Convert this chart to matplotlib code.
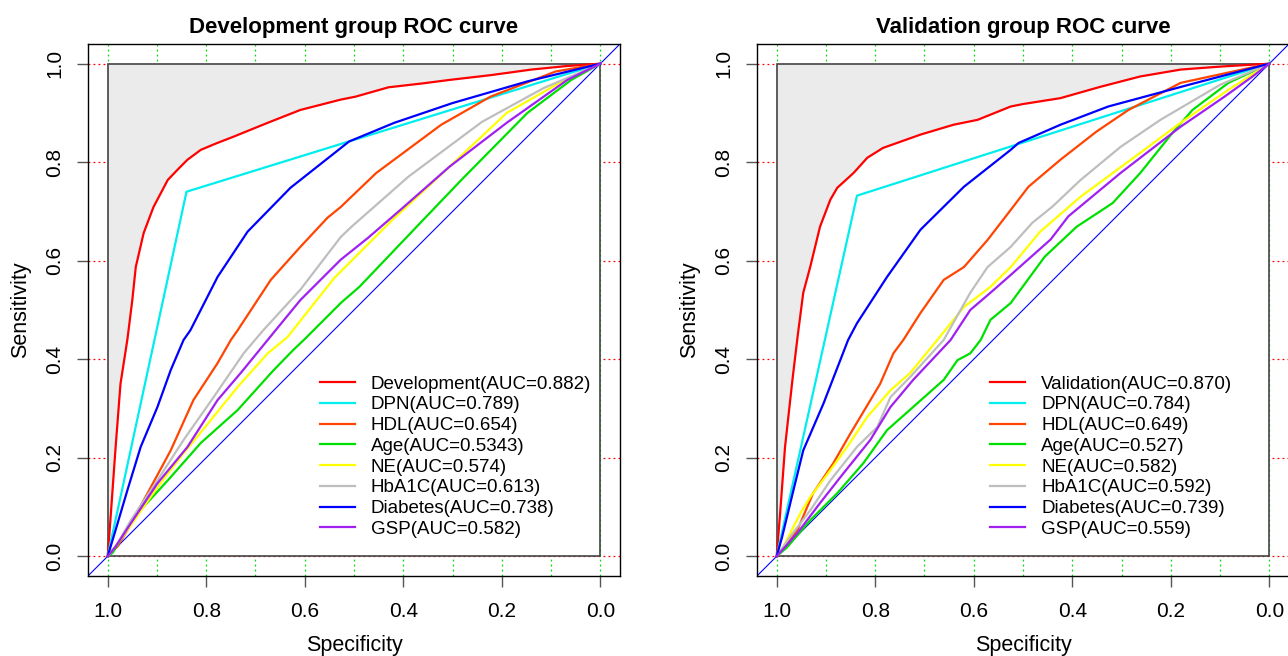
import matplotlib
matplotlib.use("Agg")
import matplotlib.pyplot as plt
from matplotlib.patches import Rectangle
import numpy as np

plt.rcParams["font.family"] = ["Liberation Sans", "DejaVu Sans"]

# ---- Development group (specificity, sensitivity) ----
dev_spec = [1.0, 0.994, 0.984, 0.974, 0.96, 0.95, 0.943, 0.927, 0.907, 0.878, 0.855, 0.838,
            0.811, 0.78, 0.744, 0.675, 0.609, 0.527, 0.497, 0.43, 0.36, 0.306, 0.22, 0.14,
            0.07, 0.0]
dev_sens = [0.0, 0.08, 0.22, 0.35, 0.44, 0.52, 0.587, 0.656, 0.709, 0.764, 0.788, 0.805,
            0.825, 0.838, 0.852, 0.88, 0.906, 0.927, 0.933, 0.952, 0.96, 0.967, 0.977, 0.988,
            0.995, 1.0]
dev_dpn_spec = [1.0, 0.84, 0.0]
dev_dpn_sens = [0.0, 0.74, 1.0]
dev_hdl_spec = [1.0, 0.98, 0.96, 0.919, 0.872, 0.826, 0.777, 0.75, 0.736, 0.669, 0.609, 0.554,
                0.527, 0.455, 0.323, 0.223, 0.091, 0.0]
dev_hdl_sens = [0.0, 0.02, 0.053, 0.128, 0.215, 0.317, 0.392, 0.439, 0.459, 0.561, 0.628,
                0.687, 0.709, 0.778, 0.876, 0.933, 0.984, 1.0]
dev_age_spec = [1.0, 0.99, 0.947, 0.878, 0.811, 0.736, 0.663, 0.623, 0.602, 0.527, 0.489,
                0.389, 0.282, 0.148, 0.059, 0.0]
dev_age_sens = [0.0, 0.007, 0.079, 0.154, 0.23, 0.297, 0.378, 0.419, 0.439, 0.514, 0.547,
                0.652, 0.764, 0.9, 0.967, 1.0]
dev_ne_spec = [1.0, 0.97, 0.899, 0.846, 0.791, 0.736, 0.675, 0.635, 0.54, 0.422, 0.306, 0.19,
               0.083, 0.0]
dev_ne_sens = [0.0, 0.039, 0.14, 0.209, 0.276, 0.344, 0.412, 0.445, 0.565, 0.683, 0.791, 0.9,
               0.961, 1.0]
dev_hba_spec = [1.0, 0.98, 0.953, 0.899, 0.846, 0.785, 0.724, 0.684, 0.609, 0.527, 0.505,
                0.389, 0.24, 0.116, 0.0]
dev_hba_sens = [0.0, 0.026, 0.073, 0.154, 0.236, 0.323, 0.412, 0.459, 0.541, 0.648, 0.669,
                0.771, 0.882, 0.95, 1.0]
dev_dia_spec = [1.0, 0.984, 0.96, 0.933, 0.899, 0.872, 0.846, 0.832, 0.777, 0.716, 0.629, 0.51,
                0.418, 0.3, 0.148, 0.0]
dev_dia_sens = [0.0, 0.053, 0.134, 0.222, 0.303, 0.378, 0.439, 0.459, 0.567, 0.659, 0.748,
                0.842, 0.88, 0.92, 0.964, 1.0]
dev_gsp_spec = [1.0, 0.985, 0.953, 0.899, 0.838, 0.777, 0.73, 0.659, 0.609, 0.527, 0.472,
                0.406, 0.306, 0.19, 0.067, 0.0]
dev_gsp_sens = [0.0, 0.018, 0.067, 0.148, 0.222, 0.317, 0.372, 0.459, 0.52, 0.602, 0.646,
                0.703, 0.791, 0.88, 0.967, 1.0]

# ---- Validation group ----
val_spec = [1.0, 0.993, 0.983, 0.968, 0.957, 0.946, 0.932, 0.912, 0.891, 0.877, 0.844, 0.816,
            0.784, 0.708, 0.641, 0.592, 0.525, 0.5, 0.424, 0.343, 0.262, 0.18, 0.1, 0.0]
val_sens = [0.0, 0.087, 0.222, 0.358, 0.45, 0.535, 0.587, 0.669, 0.724, 0.748, 0.778, 0.809,
            0.829, 0.856, 0.876, 0.886, 0.913, 0.918, 0.93, 0.953, 0.974, 0.988, 0.994, 1.0]
val_dpn_spec = [1.0, 0.837, 0.0]
val_dpn_sens = [0.0, 0.732, 1.0]
val_hdl_spec = [1.0, 0.958, 0.926, 0.885, 0.851, 0.79, 0.763, 0.743, 0.708, 0.661, 0.62, 0.572,
                0.525, 0.489, 0.424, 0.351, 0.286, 0.18, 0.0]
val_hdl_sens = [0.0, 0.053, 0.128, 0.189, 0.248, 0.35, 0.412, 0.439, 0.494, 0.561, 0.587,
                0.642, 0.703, 0.75, 0.805, 0.862, 0.906, 0.961, 1.0]
val_age_spec = [1.0, 0.979, 0.932, 0.877, 0.824, 0.776, 0.723, 0.661, 0.633, 0.607, 0.586,
                0.566, 0.525, 0.456, 0.391, 0.318, 0.262, 0.197, 0.156, 0.083, 0.0]
val_age_sens = [0.0, 0.018, 0.073, 0.128, 0.189, 0.256, 0.303, 0.358, 0.398, 0.412, 0.439,
                0.48, 0.514, 0.608, 0.669, 0.717, 0.778, 0.859, 0.906, 0.961, 1.0]
val_ne_spec = [1.0, 0.987, 0.952, 0.932, 0.891, 0.857, 0.816, 0.769, 0.729, 0.674, 0.62, 0.566,
               0.525, 0.465, 0.383, 0.262, 0.18, 0.083, 0.0]
val_ne_sens = [0.0, 0.018, 0.087, 0.12, 0.175, 0.222, 0.283, 0.337, 0.372, 0.439, 0.506, 0.547,
               0.587, 0.659, 0.73, 0.819, 0.88, 0.947, 1.0]
val_hba_spec = [1.0, 0.973, 0.932, 0.891, 0.837, 0.796, 0.769, 0.729, 0.661, 0.607, 0.572,
                0.525, 0.481, 0.44, 0.383, 0.302, 0.221, 0.1, 0.0]
val_hba_sens = [0.0, 0.039, 0.093, 0.154, 0.222, 0.262, 0.323, 0.364, 0.439, 0.535, 0.587,
                0.628, 0.677, 0.71, 0.764, 0.831, 0.886, 0.957, 1.0]
val_dia_spec = [1.0, 0.989, 0.966, 0.946, 0.905, 0.881, 0.855, 0.837, 0.776, 0.708, 0.62, 0.525,
                0.509, 0.424, 0.327, 0.164, 0.0]
val_dia_sens = [0.0, 0.039, 0.134, 0.215, 0.31, 0.372, 0.439, 0.473, 0.567, 0.663, 0.75, 0.825,
                0.839, 0.876, 0.913, 0.957, 1.0]
val_gsp_spec = [1.0, 0.958, 0.912, 0.864, 0.81, 0.769, 0.723, 0.647, 0.607, 0.566, 0.525, 0.444,
                0.408, 0.302, 0.18, 0.091, 0.034, 0.0]
val_gsp_sens = [0.0, 0.047, 0.108, 0.169, 0.236, 0.303, 0.358, 0.439, 0.5, 0.535, 0.571, 0.643,
                0.69, 0.778, 0.872, 0.933, 0.974, 1.0]

dev_labels = ["Development(AUC=0.882)", "DPN(AUC=0.789)", "HDL(AUC=0.654)", "Age(AUC=0.5343)",
              "NE(AUC=0.574)", "HbA1C(AUC=0.613)", "Diabetes(AUC=0.738)", "GSP(AUC=0.582)"]
val_labels = ["Validation(AUC=0.870)", "DPN(AUC=0.784)", "HDL(AUC=0.649)", "Age(AUC=0.527)",
              "NE(AUC=0.582)", "HbA1C(AUC=0.592)", "Diabetes(AUC=0.739)", "GSP(AUC=0.559)"]
colores = ["#FF0000", "#00EEEE", "#FF4500", "#00E000", "#FFFF00", "#BEBEBE", "#0000FF", "#A020F0"]

dev_curvas = [(dev_spec, dev_sens), (dev_dpn_spec, dev_dpn_sens), (dev_hdl_spec, dev_hdl_sens),
              (dev_age_spec, dev_age_sens), (dev_ne_spec, dev_ne_sens), (dev_hba_spec, dev_hba_sens),
              (dev_dia_spec, dev_dia_sens), (dev_gsp_spec, dev_gsp_sens)]
val_curvas = [(val_spec, val_sens), (val_dpn_spec, val_dpn_sens), (val_hdl_spec, val_hdl_sens),
              (val_age_spec, val_age_sens), (val_ne_spec, val_ne_sens), (val_hba_spec, val_hba_sens),
              (val_dia_spec, val_dia_sens), (val_gsp_spec, val_gsp_sens)]


def painel(ax, titulo, curvas, rotulos, leg_x):
    ax.set_xlim(1.04, -0.04)
    ax.set_ylim(-0.04, 1.04)

    for x in np.arange(0, 1.01, 0.1):
        ax.axvline(x, color="#00DD00", ls=(0, (1.5, 2.5)), lw=0.9, zorder=0)
    for y in np.arange(0, 1.01, 0.2):
        ax.axhline(y, color="#FF0000", ls=(0, (1.5, 2.5)), lw=0.9, zorder=0)

    ax.add_patch(Rectangle((0, 0), 1, 1, facecolor="white", edgecolor="none", zorder=1))
    spec0, sens0 = curvas[0]
    ax.fill(list(spec0) + [1.0], list(sens0) + [1.0], color="#EBEBEB", lw=0, zorder=1.5)
    ax.add_patch(Rectangle((0, 0), 1, 1, facecolor="none", edgecolor="#444444", lw=1.2, zorder=2))
    ax.axline((1, 0), (0, 1), color="#0000FF", lw=0.8, zorder=2.5)

    for (sp, se), cor, rot in zip(curvas, colores, rotulos):
        ax.plot(sp, se, color=cor, lw=1.6, label=rot, zorder=3)

    ax.set_xticks([1.0, 0.8, 0.6, 0.4, 0.2, 0.0])
    ax.set_yticks([0.0, 0.2, 0.4, 0.6, 0.8, 1.0])
    ax.set_xticklabels(["1.0", "0.8", "0.6", "0.4", "0.2", "0.0"])
    ax.set_yticklabels(["0.0", "0.2", "0.4", "0.6", "0.8", "1.0"], rotation=90, va="center")
    ax.tick_params(direction="out", length=8, width=1, color="#555555", labelsize=15)
    ax.tick_params(axis="x", pad=11)
    ax.tick_params(axis="y", pad=9)
    for s in ax.spines.values():
        s.set_color("black")
        s.set_linewidth(1)

    ax.set_title(titulo, fontsize=16, fontweight="bold", pad=8)
    ax.set_xlabel("Specificity", fontsize=15.5, labelpad=10)
    ax.set_ylabel("Sensitivity", fontsize=15.5, labelpad=10)

    ax.legend(loc="upper left", bbox_to_anchor=(leg_x, 0.377), frameon=False, fontsize=13.5,
              handlelength=1.87, handletextpad=0.85, labelspacing=0.195, borderpad=0,
              borderaxespad=0)


fig = plt.figure(figsize=(12.88, 6.56), dpi=100)
ax1 = fig.add_axes([0.0683, 0.122, 0.4131, 0.811])
ax2 = fig.add_axes([0.5877, 0.122, 0.4131, 0.811])

painel(ax1, "Development group ROC curve", dev_curvas, dev_labels, 0.436)
painel(ax2, "Validation group ROC curve", val_curvas, val_labels, 0.438)

fig.savefig("out.png", dpi=100)
